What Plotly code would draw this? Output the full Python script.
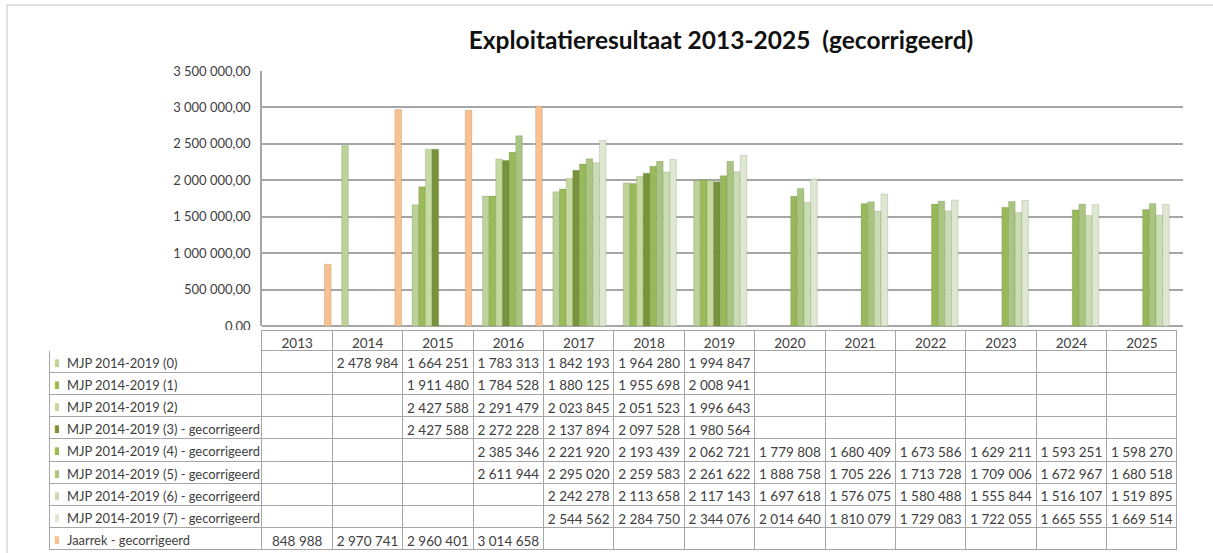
import plotly.graph_objects as go

years = [2013, 2014, 2015, 2016, 2017, 2018, 2019, 2020, 2021, 2022, 2023, 2024, 2025]
series_names = [
    "MJP 2014-2019 (0)",
    "MJP 2014-2019 (1)",
    "MJP 2014-2019 (2)",
    "MJP 2014-2019 (3) - gecorrigeerd",
    "MJP 2014-2019 (4) - gecorrigeerd",
    "MJP 2014-2019 (5) - gecorrigeerd",
    "MJP 2014-2019 (6) - gecorrigeerd",
    "MJP 2014-2019 (7) - gecorrigeerd",
    "Jaarrek - gecorrigeerd",
]
mjp0 = [None, 2478984, 1664251, 1783313, 1842193, 1964280, 1994847, None, None, None, None, None, None]
mjp1 = [None, None, 1911480, 1784528, 1880125, 1955698, 2008941, None, None, None, None, None, None]
mjp2 = [None, None, 2427588, 2291479, 2023845, 2051523, 1996643, None, None, None, None, None, None]
mjp3 = [None, None, 2427588, 2272228, 2137894, 2097528, 1980564, None, None, None, None, None, None]
mjp4 = [None, None, None, 2385346, 2221920, 2193439, 2062721, 1779808, 1680409, 1673586, 1629211, 1593251, 1598270]
mjp5 = [None, None, None, 2611944, 2295020, 2259583, 2261622, 1888758, 1705226, 1713728, 1709006, 1672967, 1680518]
mjp6 = [None, None, None, None, 2242278, 2113658, 2117143, 1697618, 1576075, 1580488, 1555844, 1516107, 1519895]
mjp7 = [None, None, None, None, 2544562, 2284750, 2344076, 2014640, 1810079, 1729083, 1722055, 1665555, 1669514]
jaarrek = [848988, 2970741, 2960401, 3014658, None, None, None, None, None, None, None, None, None]

y_tickvals = [0, 500000, 1000000, 1500000, 2000000, 2500000, 3000000, 3500000]
y_ticktext = ["0,00", "500 000,00", "1 000 000,00", "1 500 000,00", "2 000 000,00",
              "2 500 000,00", "3 000 000,00", "3 500 000,00"]

all_series = [mjp0, mjp1, mjp2, mjp3, mjp4, mjp5, mjp6, mjp7, jaarrek]
colors = ["#BCD29A", "#9BBB59", "#C6D9A0", "#77933C", "#98B95A", "#AAC482",
          "#CADCB3", "#DFE7D3", "#FAC090"]

W, H = 1213, 553
FONT = "Lato, 'Open Sans', sans-serif"
TXT = "#404040"
NB = "\u00a0"
HDR_H, ROW_H = 20, 22.2
TBL_TOP = 330
CLEAR = "rgba(0,0,0,0)"

fig = go.Figure()
for name, vals, col in zip(series_names, all_series, colors):
    fig.add_trace(go.Bar(
        x=list(range(len(years))), y=vals, name=name,
        marker=dict(color=col, line=dict(color="rgba(90,110,60,0.35)", width=0.6)),
        xaxis="x", yaxis="y", showlegend=False,
    ))

def fmt(v):
    return "" if v is None else f"{v:,}".replace(",", NB)

cols = [[""] * len(series_names)]
for i in range(len(years)):
    cols.append([fmt(s[i]) for s in all_series])

grid = "#A6A6A6"
tbl_y = [0.0, (H - TBL_TOP) / H]
# grid + values
fig.add_trace(go.Table(
    domain=dict(x=[49 / W, 1177 / W], y=tbl_y),
    columnwidth=[213] + [70.4] * len(years),
    header=dict(
        values=[""] + [str(y) for y in years],
        fill_color="white",
        line=dict(color=["white"] + [grid] * len(years), width=1),
        font=dict(family=FONT, size=13.5, color=TXT),
        align="center", height=HDR_H,
    ),
    cells=dict(
        values=cols,
        fill_color="white",
        line=dict(color=grid, width=1),
        font=dict(family=FONT, size=13.5, color=TXT),
        align="center",
        height=ROW_H,
    ),
))

# legend keys + series names overlaid on the first table column
fig.add_trace(go.Table(
    domain=dict(x=[46 / W, 262 / W], y=tbl_y),
    columnwidth=[13, 203],
    header=dict(values=["", ""], fill_color=CLEAR,
                line=dict(color=CLEAR, width=0), height=HDR_H),
    cells=dict(values=[["■"] * len(series_names),
                       [n.replace(" ", NB) for n in series_names]],
               fill_color=CLEAR,
               line=dict(color=CLEAR, width=0),
               font=dict(family=["DejaVu Sans", FONT], size=[10, 12.9],
                         color=[colors, [TXT] * len(series_names)]),
               align="left", height=ROW_H),
))

fig.update_layout(
    template="none",
    width=W, height=H,
    margin=dict(l=0, r=0, t=0, b=0, autoexpand=False),
    paper_bgcolor="white", plot_bgcolor="white",
    barmode="group", bargap=0.15, bargroupgap=0.0,
    font=dict(family=FONT, color=TXT),
    xaxis=dict(
        domain=[262 / W, 1183 / W],
        range=[-0.557, 12.526], automargin=False,
        showticklabels=False, showgrid=False, zeroline=False,
        showline=False, ticks="",
    ),
    yaxis=dict(
        domain=[(H - 326) / H, (H - 71) / H],
        range=[0, 3500000], automargin=False,
        tickvals=y_tickvals, ticktext=y_ticktext, ticks="",
        tickfont=dict(family=FONT, size=13, color=TXT),
        ticklabelstandoff=7,
        showgrid=True, gridcolor="#A6A6A6", gridwidth=1.5,
        zeroline=True, zerolinecolor="#A6A6A6", zerolinewidth=1.5,
        showline=True, linecolor="#A6A6A6", linewidth=1.5,
    ),
    title=dict(
        text="<b>Exploitatieresultaat 2013-2025  (gecorrigeerd)</b>",
        x=721 / W, xanchor="center", y=1 - 40 / H, yanchor="middle",
        font=dict(family=FONT, size=24.5, color="#111111"),
    ),
    shapes=[dict(type="rect", xref="paper", yref="paper",
                 x0=7 / W, x1=1.02, y0=-0.02, y1=1 - 5 / H,
                 line=dict(color="#D9D9D9", width=1.5), fillcolor=CLEAR,
                 layer="below")],
)

fig.write_html("out.html", config={"displayModeBar": False},
               post_script="document.body.style.margin='0';document.body.style.overflow='hidden';")
